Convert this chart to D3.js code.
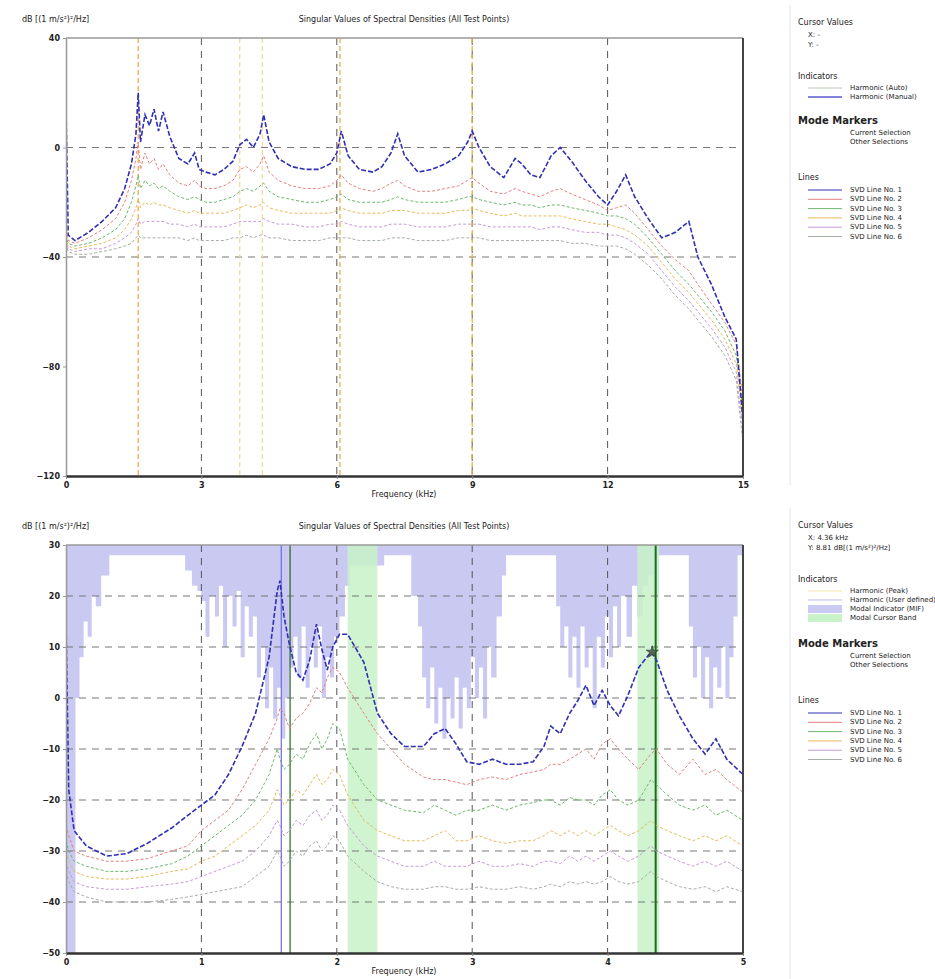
<!DOCTYPE html>
<html>
<head>
<meta charset="utf-8">
<script src="https://cdn.jsdelivr.net/npm/d3@7"></script>
<style>
body { margin: 0; background: #fff; }
svg text { font-family: "DejaVu Sans", sans-serif; fill: #222; }
</style>
</head>
<body>
<svg id="chart" width="935" height="979"></svg>
<script>
// ---- top plot data (all test points, 0-15 kHz) ----
var fTop = [0, 0.05, 0.2, 0.5, 0.8, 1.1, 1.3, 1.45, 1.55, 1.6, 1.65, 1.75, 1.85, 1.95, 2.05, 2.15, 2.3, 2.5, 2.7, 2.85,
    2.95, 3.1, 3.3, 3.5, 3.7, 3.85, 4.0, 4.15, 4.3, 4.38, 4.5, 4.7, 5.0, 5.3, 5.6, 5.85, 6.0, 6.1, 6.25, 6.5,
    6.8, 7.0, 7.2, 7.35, 7.5, 7.8, 8.1, 8.4, 8.7, 8.9, 9.0, 9.15, 9.4, 9.7, 9.95, 10.1, 10.3, 10.5, 10.75, 10.95,
    11.2, 11.5, 11.8, 12.0, 12.2, 12.4, 12.6, 12.9, 13.2, 13.5, 13.8, 14.0, 14.3, 14.6, 14.85, 15.0];
var svdTop1 = [15, -32, -34, -31, -27, -22, -15, -6, 5, 20, 2, 12, 8, 14, 6, 13, 4, -4, -6, -2,
    -8, -9, -10, -8, -5, 1, 3, 0, 5, 12, 2, -4, -7, -8, -8, -6, -2, 6, -3, -8,
    -9, -7, -2, 5, -3, -9, -8, -6, -3, 2, 6, 0, -7, -11, -4, -6, -10, -11, -3, 0,
    -5, -12, -18, -21, -16, -10, -18, -26, -33, -31, -27, -40, -50, -62, -70, -100];
var svdTop2 = [-30, -34, -35, -33, -30, -26, -20, -12, -4, 2, -8, -2, -6, -4, -8, -6, -10, -13, -14, -12,
    -14, -15, -15, -14, -12, -8, -7, -9, -6, -3, -9, -12, -14, -15, -15, -14, -12, -10, -13, -15,
    -16, -15, -13, -12, -14, -16, -16, -15, -14, -12, -11, -13, -16, -17, -15, -16, -17, -18, -16, -15,
    -17, -19, -21, -23, -22, -21, -24, -30, -36, -41, -45, -50, -57, -64, -72, -92];
var svdTop3 = [-32, -35, -36, -35, -33, -30, -26, -20, -14, -10, -15, -12, -14, -13, -15, -14, -16, -18, -19, -18,
    -19, -20, -20, -19, -18, -16, -15, -16, -14, -13, -16, -18, -19, -20, -20, -19, -18, -17, -19, -20,
    -20, -20, -19, -18, -19, -20, -20, -20, -19, -18, -18, -19, -20, -21, -20, -21, -21, -22, -21, -21,
    -22, -23, -24, -25, -25, -26, -28, -33, -39, -45, -50, -54, -60, -67, -76, -96];
var svdTop4 = [-33, -36, -37, -36, -35, -33, -30, -26, -22, -19, -22, -20, -21, -20, -21, -21, -22, -23, -24, -23,
    -24, -24, -24, -24, -23, -22, -21, -22, -21, -20, -22, -23, -24, -24, -24, -24, -23, -22, -23, -24,
    -24, -24, -23, -23, -23, -24, -24, -24, -23, -23, -22, -23, -24, -25, -24, -25, -25, -25, -25, -25,
    -26, -27, -28, -28, -29, -30, -32, -36, -42, -48, -53, -57, -63, -70, -79, -100];
var svdTop5 = [-34, -37, -38, -37, -37, -35, -33, -31, -28, -26, -28, -27, -27, -27, -27, -27, -28, -28, -29, -28,
    -29, -29, -29, -29, -28, -27, -27, -27, -27, -26, -27, -28, -28, -29, -29, -28, -28, -27, -28, -29,
    -29, -29, -28, -28, -28, -29, -29, -29, -28, -28, -28, -28, -29, -29, -29, -29, -29, -30, -29, -29,
    -30, -31, -31, -32, -32, -33, -35, -39, -45, -51, -56, -60, -66, -73, -82, -104];
var svdTop6 = [-35, -38, -39, -39, -38, -37, -36, -35, -33, -32, -33, -33, -33, -33, -33, -33, -33, -33, -34, -33,
    -34, -34, -34, -34, -33, -33, -32, -33, -32, -32, -33, -33, -34, -34, -34, -33, -33, -33, -33, -34,
    -34, -34, -33, -33, -33, -34, -34, -34, -33, -33, -33, -33, -34, -34, -34, -34, -34, -34, -34, -34,
    -35, -35, -36, -36, -36, -37, -39, -43, -48, -54, -59, -63, -69, -76, -85, -108];
var topMarkers = [1.6, 3.85, 4.35, 6.07, 9.0];
var topMarkerFaint = [false, true, true, false, false];
var topXTicks = [0, 3, 6, 9, 12, 15];
var topYTicks = [40, 0, -40, -80, -120];
var topYGrid = [0, -40];

// ---- bottom plot data (0-5 kHz) ----
var fBot = [0, 0.02, 0.06, 0.15, 0.3, 0.45, 0.6, 0.78, 0.9, 1.0, 1.1, 1.2, 1.3, 1.4, 1.5, 1.56, 1.58, 1.61, 1.65, 1.7,
    1.75, 1.8, 1.85, 1.89, 1.93, 1.97, 2.02, 2.08, 2.2, 2.3, 2.4, 2.5, 2.64, 2.72, 2.8, 2.88, 2.96, 3.05, 3.15, 3.25,
    3.35, 3.45, 3.53, 3.58, 3.65, 3.72, 3.78, 3.84, 3.9, 3.96, 4.02, 4.08, 4.15, 4.23, 4.32, 4.36, 4.44, 4.53, 4.63, 4.72,
    4.8, 4.88, 5.0];
var svdBot1 = [15, -18, -26, -29, -31, -30.5, -28.5, -25.5, -23, -21, -19, -15, -9.5, -3, 8, 21, 23, 16, 10.5, 5,
    3.5, 7.5, 14.5, 9.5, 5.5, 10, 12.5, 12.5, 7, -3, -7, -9.5, -9.5, -7, -6, -9, -12.5, -13, -12, -13,
    -13, -12.5, -9.5, -5.5, -7, -3, -0.5, 2.5, -1.5, 1.5, -1.5, -3.5, 0.5, 6, 9, 7.5, 1.5, -3.5, -8, -11,
    -8, -12, -15];
var svdBot2 = [-25, -27, -30, -31, -32, -32, -31.5, -30, -29, -26, -24, -22, -18, -13, -8, -4, -2, -3, -6, -4,
    -3, -1, 2, 1, 4, 6, 5, 2, -3, -7, -10, -13, -15.5, -16, -16, -16.5, -17, -16, -15.5, -16,
    -15, -14.5, -14, -13, -13, -12, -11, -10, -12, -9, -8, -10, -12, -14, -11, -10, -13, -15, -12, -15,
    -14, -16, -18.5];
var svdBot3 = [-28, -30, -32, -33, -34, -34, -33.5, -32.5, -31, -29, -27, -25, -23, -20, -15, -10, -12, -14, -13, -11,
    -12, -9, -7, -10, -8, -5, -6, -12, -17, -20, -21, -22, -22.5, -21, -22, -23, -22, -22, -21, -22,
    -21, -20.5, -20, -20, -21, -19.5, -20, -20, -21, -19, -18, -20, -21, -20, -16, -17, -19, -21, -22, -21,
    -23, -22, -24];
var svdBot4 = [-30, -32, -34, -35, -35.5, -35.5, -35, -34, -33.5, -32, -31, -29, -27, -25, -22, -18, -19, -21, -20, -18,
    -19, -17, -15, -17, -16, -14, -15, -19, -24, -26, -27, -28, -28, -27, -26, -28, -28, -27, -28, -28.5,
    -28, -28, -27, -26, -27, -26, -27, -26, -27, -26, -25, -26, -27, -26, -24, -25, -26, -27, -28, -27,
    -28, -27, -29];
var svdBot5 = [-32, -34, -36, -37, -37.5, -37.5, -37, -36.5, -36, -35, -34, -33, -32, -30, -27, -24, -25, -27, -26, -24,
    -25, -23, -22, -24, -23, -21, -22, -25, -29, -31, -32, -33, -33, -32, -33, -33, -33, -32, -33, -33,
    -32.5, -33, -32, -32, -32.5, -31, -32, -31, -32, -31, -30, -31, -32, -31, -29, -30, -31, -32, -33, -32,
    -33, -32, -34];
var svdBot6 = [-34, -36, -38, -39, -40, -40, -40, -39.5, -39, -38.5, -38, -37.5, -37, -35, -33, -30, -31, -33, -32, -30,
    -31, -29, -28, -30, -29, -27, -28, -31, -34, -36, -37, -37.5, -37.5, -37, -37, -37.5, -37.5, -37, -37.5, -37.5,
    -37, -37.5, -37, -36.5, -37, -36, -36.5, -36, -36.5, -36, -35, -36, -36.5, -36, -34, -35, -36, -37, -37.5, -37,
    -38, -37, -38];
// modal indicator: lower edge (dB) of the blue fill hanging from the top
var mifFreq = [0, 0.07, 0.1, 0.13, 0.16, 0.19, 0.22, 0.26, 0.32, 0.88,
    0.93, 0.97, 1.0, 1.03, 1.06, 1.1, 1.13, 1.16, 1.19, 1.23,
    1.26, 1.29, 1.32, 1.35, 1.38, 1.41, 1.44, 1.47, 1.5, 1.53,
    1.56, 1.59, 1.62, 1.65, 1.68, 1.71, 1.74, 1.77, 1.8, 1.83,
    1.86, 1.89, 1.92, 1.95, 1.98, 2.02, 2.06, 2.1, 2.35, 2.55,
    2.6, 2.63, 2.66, 2.69, 2.72, 2.75, 2.78, 2.81, 2.84, 2.87,
    2.9, 2.93, 2.96, 2.99, 3.02, 3.05, 3.08, 3.11, 3.14, 3.18,
    3.22, 3.25, 3.62, 3.65, 3.68, 3.71, 3.74, 3.77, 3.8, 3.83,
    3.86, 3.89, 3.92, 3.95, 3.98, 4.01, 4.04, 4.07, 4.1, 4.14,
    4.18, 4.22, 4.26, 4.3, 4.34, 4.38, 4.6, 4.63, 4.66, 4.69,
    4.72, 4.75, 4.78, 4.81, 4.84, 4.87, 4.9, 4.93, 4.96, 5.0];
var mifDepth = [-50, 0, 8, 15, 12, 20, 18, 24, 28, 25,
    22, 21, 19, 12, 20, 16, 22, 10, 20, 14,
    21, 8, 18, 12, 16, 4, 10, -2, 6, -4,
    2, -8, 0, 6, 12, 4, 14, 2, 10, 6,
    14, 0, 8, 4, 12, 16, 22, 26, 28, 20,
    14, 4, -2, 6, -5, 2, -8, 0, -4, 4,
    -6, 2, -2, 8, 0, 6, -4, 10, 4, 16,
    24, 28, 18, 10, 14, 4, 12, 2, 14, 6,
    10, -2, 12, 6, 16, 8, 18, 10, 20, 12,
    22, 16, 22, 24, 20, 28, 14, 4, 10, 0,
    8, -2, 6, 2, 10, 0, 8, 16, 28, 28];
var greenBands = [[2.08, 2.3], [4.22, 4.38]];
var botCursorBlue = 1.59;
var botCursorGreen = [1.655, 4.355];
var botPeak = [4.33, 9];
var botXTicks = [0, 1, 2, 3, 4, 5];
var botYTicks = [30, 20, 10, 0, -10, -20, -30, -40, -50];
var botYGrid = [20, 10, 0, -10, -20, -30, -40];

var lineNames = ["SVD Line No. 1", "SVD Line No. 2", "SVD Line No. 3", "SVD Line No. 4", "SVD Line No. 5", "SVD Line No. 6"];
var lineColors = ["#2f2fb4", "#e58080", "#6cb86c", "#e6bb5c", "#c79ad6", "#a5aea5"];

var svg = d3.select("#chart");

function drawPlot(opt) {
    var g = svg.append("g");
    var x = d3.scaleLinear().domain(opt.xDomain).range([66, 743]);
    var y = d3.scaleLinear().domain(opt.yDomain).range([opt.bottom, opt.top]);

    // clip
    var cid = "clip" + opt.top;
    svg.append("clipPath").attr("id", cid)
    .append("rect").attr("x", 66).attr("y", opt.top).attr("width", 677).attr("height", opt.bottom - opt.top);
    var inner = g.append("g").attr("clip-path", "url(#" + cid + ")");

    if (opt.before) opt.before(inner, x, y);

    // grid
    inner.selectAll(".vg").data(opt.xGrid).enter().append("line")
    .attr("x1", function(d) { return x(d); }).attr("x2", function(d) { return x(d); })
    .attr("y1", opt.top).attr("y2", opt.bottom)
    .attr("stroke", "#555").attr("stroke-width", 1).attr("stroke-dasharray", "7,6");
    inner.selectAll(".hg").data(opt.yGrid).enter().append("line")
    .attr("x1", 66).attr("x2", 743)
    .attr("y1", function(d) { return y(d); }).attr("y2", function(d) { return y(d); })
    .attr("stroke", "#777").attr("stroke-width", 1).attr("stroke-dasharray", "7,6");

    if (opt.markers) opt.markers(inner, x, y);

    // svd lines, last first so line 1 is on top
    var line = d3.line()
    .x(function(d) { return x(d[0]); })
    .y(function(d) { return y(d[1]); });
    for (var k = opt.series.length - 1; k >= 0; k--) {
        var pts = opt.freq.map(function(f, i) { return [f, opt.series[k][i]]; });
        inner.append("path")
        .datum(pts)
        .attr("d", line)
        .attr("fill", "none")
        .attr("stroke", lineColors[k])
        .attr("stroke-width", k == 0 ? 1.6 : 1)
        .attr("stroke-dasharray", k == 0 ? "5,2" : "3,2");
    }

    if (opt.after) opt.after(inner, x, y);

    // frame
    g.append("line").attr("x1", 66).attr("x2", 743).attr("y1", opt.top).attr("y2", opt.top)
    .attr("stroke", "#999").attr("stroke-width", 1.5);
    g.append("line").attr("x1", 743).attr("x2", 743).attr("y1", opt.top).attr("y2", opt.bottom)
    .attr("stroke", "#444").attr("stroke-width", 2);

    // axes
    var ya = g.append("g").attr("transform", "translate(66,0)")
    .call(d3.axisLeft(y).tickValues(opt.yTicks).tickSize(3).tickSizeOuter(0).tickFormat(d3.format("d")));
    ya.select(".domain").attr("stroke", "#999").attr("stroke-width", 1.5);
    ya.selectAll("text").attr("font-size", 8).attr("font-weight", "bold").attr("fill", "#333");
    ya.selectAll(".tick line").attr("stroke", "#999");

    var xa = g.append("g").attr("transform", "translate(0," + opt.bottom + ")")
    .call(d3.axisBottom(x).tickValues(opt.xTicks).tickSize(3).tickSizeOuter(0).tickFormat(d3.format("d")));
    xa.select(".domain").attr("stroke", "#333").attr("stroke-width", 2.5);
    xa.selectAll("text").attr("font-size", 8).attr("font-weight", "bold").attr("fill", "#333");
    xa.selectAll(".tick line").attr("stroke", "#888");

    // titles
    g.append("text").attr("x", 22).attr("y", opt.top - 16).attr("font-size", 8).text("dB [(1 m/s²)²/Hz]");
    g.append("text").attr("x", 404).attr("y", opt.top - 16).attr("text-anchor", "middle")
    .attr("font-size", 8).text(opt.title);
    g.append("text").attr("x", 404).attr("y", opt.bottom + 21).attr("text-anchor", "middle")
    .attr("font-size", 8).text("Frequency (kHz)");
}

// top plot
drawPlot({
    xDomain: [0, 15], yDomain: [-120, 40], top: 38, bottom: 476,
    xTicks: topXTicks, yTicks: topYTicks, xGrid: [3, 6, 9, 12], yGrid: topYGrid,
    freq: fTop, series: [svdTop1, svdTop2, svdTop3, svdTop4, svdTop5, svdTop6],
    title: "Singular Values of Spectral Densities (All Test Points)",
    markers: function(g, x, y) {
        g.selectAll(".mk").data(topMarkers).enter().append("line")
        .attr("x1", function(d) { return x(d); }).attr("x2", function(d) { return x(d); })
        .attr("y1", 38).attr("y2", 476)
        .attr("stroke", function(d, i) { return topMarkerFaint[i] ? "#f6d59a" : "#f0a640"; })
        .attr("stroke-width", 1.2)
        .attr("stroke-dasharray", "5,3");
    }
});

// bottom plot
drawPlot({
    xDomain: [0, 5], yDomain: [-50, 30], top: 545, bottom: 953,
    xTicks: botXTicks, yTicks: botYTicks, xGrid: [1, 2, 3, 4], yGrid: botYGrid,
    freq: fBot, series: [svdBot1, svdBot2, svdBot3, svdBot4, svdBot5, svdBot6],
    title: "Singular Values of Spectral Densities (All Test Points)",
    before: function(g, x, y) {
        var area = d3.area()
        .curve(d3.curveStepAfter)
        .x(function(d) { return x(d[0]); })
        .y0(y(30))
        .y1(function(d) { return y(d[1]); });
        g.append("path")
        .datum(mifFreq.map(function(f, i) { return [f, mifDepth[i]]; }))
        .attr("d", area)
        .attr("fill", "#c9c9f2");
        g.selectAll(".band").data(greenBands).enter().append("rect")
        .attr("x", function(d) { return x(d[0]); })
        .attr("width", function(d) { return x(d[1]) - x(d[0]); })
        .attr("y", 545).attr("height", 408)
        .attr("fill", "#c8f2c8").attr("opacity", 0.85);
    },
    markers: function(g, x, y) {
        g.append("line")
        .attr("x1", x(botCursorBlue)).attr("x2", x(botCursorBlue))
        .attr("y1", 545).attr("y2", 953)
        .attr("stroke", "#6a6ae6").attr("stroke-width", 1.2);
        g.selectAll(".gc").data(botCursorGreen).enter().append("line")
        .attr("x1", function(d) { return x(d); }).attr("x2", function(d) { return x(d); })
        .attr("y1", 545).attr("y2", 953)
        .attr("stroke", "#1f6a1f")
        .attr("stroke-width", function(d, i) { return i == 1 ? 2 : 1.2; });
    },
    after: function(g, x, y) {
        g.append("path")
        .attr("d", d3.symbol().type(d3.symbolStar).size(45)())
        .attr("transform", "translate(" + x(botPeak[0]) + "," + y(botPeak[1]) + ")")
        .attr("fill", "#556655").attr("stroke", "#223322").attr("stroke-width", 0.6);
    }
});

// legends
function drawLegend(y0, cursorX, cursorY, indicators, mmGap) {
    var g = svg.append("g");
    g.append("line").attr("x1", 790).attr("x2", 790).attr("y1", y0 - 20).attr("y2", y0 + 460)
    .attr("stroke", "#e2e2e2");
    var tx = 798;
    g.append("text").attr("x", tx).attr("y", y0).attr("font-size", 8).text("Cursor Values");
    g.append("text").attr("x", tx + 10).attr("y", y0 + 12).attr("font-size", 7).text("X: " + cursorX);
    g.append("text").attr("x", tx + 10).attr("y", y0 + 22).attr("font-size", 7).text("Y: " + cursorY);

    var yi = y0 + 54;
    g.append("text").attr("x", tx).attr("y", yi).attr("font-size", 8).text("Indicators");
    indicators.forEach(function(it, i) {
        var yy = yi + 11 + i * 9;
        if (it.fill) {
            g.append("rect").attr("x", tx + 10).attr("y", yy - 6).attr("width", 34).attr("height", 8)
            .attr("fill", it.fill);
        } else {
            g.append("line").attr("x1", tx + 10).attr("x2", tx + 44).attr("y1", yy - 2).attr("y2", yy - 2)
            .attr("stroke", it.color).attr("stroke-width", it.w || 1);
        }
        g.append("text").attr("x", tx + 52).attr("y", yy).attr("font-size", 7).text(it.name);
    });

    var ym = yi + 11 + indicators.length * 9 + mmGap;
    g.append("text").attr("x", tx).attr("y", ym).attr("font-size", 10).attr("font-weight", "bold")
    .text("Mode Markers");
    g.append("text").attr("x", tx + 52).attr("y", ym + 11).attr("font-size", 7).text("Current Selection");
    g.append("text").attr("x", tx + 52).attr("y", ym + 20).attr("font-size", 7).text("Other Selections");

    var yl = ym + 56;
    g.append("text").attr("x", tx).attr("y", yl).attr("font-size", 8).text("Lines");
    lineNames.forEach(function(n, i) {
        var yy = yl + 12 + i * 9.3;
        g.append("line").attr("x1", tx + 10).attr("x2", tx + 44).attr("y1", yy - 2).attr("y2", yy - 2)
        .attr("stroke", lineColors[i]).attr("stroke-width", 1);
        g.append("text").attr("x", tx + 52).attr("y", yy).attr("font-size", 7).text(n);
    });
}

drawLegend(25, "-", "-", [
    { name: "Harmonic (Auto)", color: "#b8c8b8" },
    { name: "Harmonic (Manual)", color: "#5a5ad0", w: 1.5 }
], 16);
drawLegend(528, "4.36 kHz", "8.81 dB[(1 m/s²)²/Hz]", [
    { name: "Harmonic (Peak)", color: "#f3e6a8" },
    { name: "Harmonic (User defined)", color: "#b9b9ea" },
    { name: "Modal Indicator (MIF)", fill: "#c9c9f2" },
    { name: "Modal Cursor Band", fill: "#c8f2c8" }
], 18);
</script>
</body>
</html>
